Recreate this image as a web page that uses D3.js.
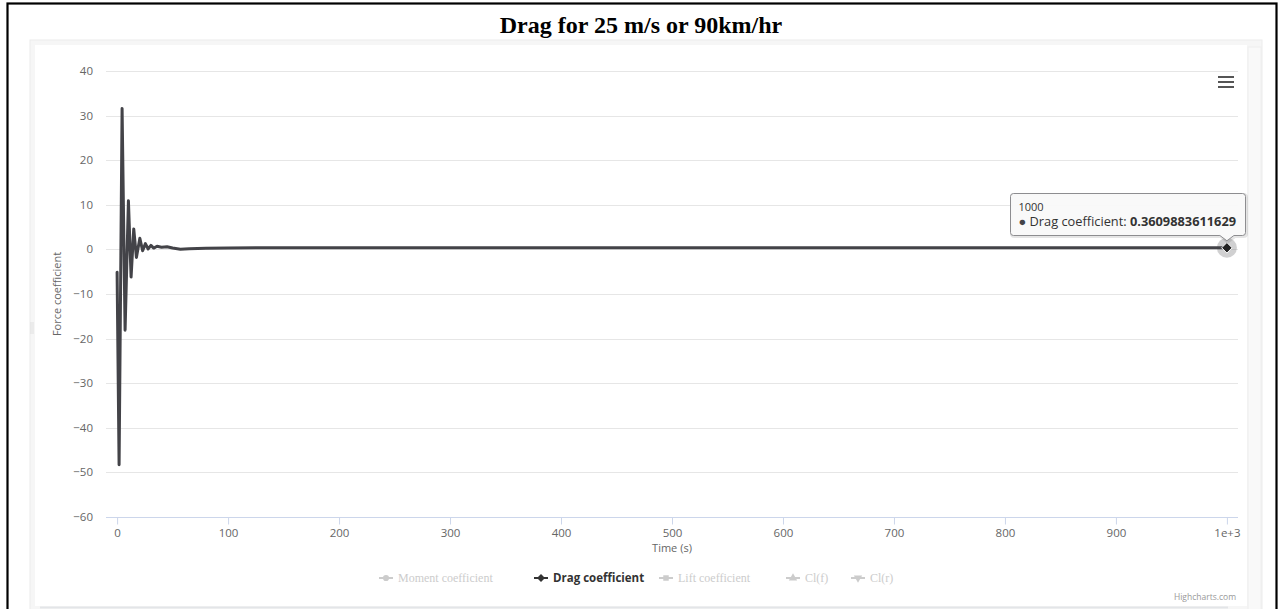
<!DOCTYPE html>
<html>
<head>
<meta charset="utf-8">
<script src="https://cdn.jsdelivr.net/npm/d3@7"></script>
<style>
  html, body { margin: 0; padding: 0; background: #fff; }
  svg { display: block; }
</style>
</head>
<body>
<svg id="chart" width="1283" height="609"></svg>
<script>
// ---- data ----
const chartTitle = "Drag for 25 m/s or 90km/hr";
const timeValues = [0, 1.8, 4.5, 7.2, 10.2, 12.6, 15, 17.4, 20.5, 23, 25.5, 28, 30.5, 33, 36, 40, 45, 50, 57, 65, 80, 100, 150, 200, 300, 400, 500, 600, 700, 800, 900, 1000];
const dragValues = [-5.1, -48.3, 31.6, -18.1, 10.9, -6.2, 4.6, -1.8, 2.5, -0.3, 1.3, 0.1, 0.9, 0.3, 0.7, 0.5, 0.6, 0.3, 0.05, 0.12, 0.25, 0.33, 0.36, 0.36, 0.36, 0.36, 0.36, 0.36, 0.36, 0.36, 0.36, 0.3609883611629];
const xTickValues = [0, 100, 200, 300, 400, 500, 600, 700, 800, 900, 1000];
const xTickLabels = ["0", "100", "200", "300", "400", "500", "600", "700", "800", "900", "1e+3"];
const yTickValues = [40, 30, 20, 10, 0, -10, -20, -30, -40, -50, -60];
const yTickLabels = ["40", "30", "20", "10", "0", "−10", "−20", "−30", "−40", "−50", "−60"];
const legendNames = ["Moment coefficient", "Drag coefficient", "Lift coefficient", "Cl(f)", "Cl(r)"];
const legendSymbols = ["circle", "diamond", "square", "triangle", "triangle-down"];
const legendVisible = [false, true, false, false, false];
const tooltipHeader = "1000";
const tooltipSeries = "Drag coefficient";
const tooltipValue = "0.3609883611629";

// ---- layout ----
const svg = d3.select("#chart");
const plot = { left: 106, right: 1238, top: 71, bottom: 517 };
const lineColor = "#434348";
const sans = "'Open Sans', 'Lucida Grande', Verdana, Arial, sans-serif";

// outer black frame
svg.append("rect").attr("x", 7.5).attr("y", 3.5).attr("width", 1269).attr("height", 620)
  .attr("fill", "none").attr("stroke", "#000").attr("stroke-width", 2.2);

// title
svg.append("text").attr("x", 641).attr("y", 33).attr("text-anchor", "middle")
  .attr("font-family", "'Liberation Serif', 'Times New Roman', serif").attr("font-weight", "bold")
  .attr("font-size", 24).attr("fill", "#000").text(chartTitle);

// container panel
svg.append("rect").attr("x", 30).attr("y", 40).attr("width", 1232).attr("height", 580)
  .attr("fill", "#f6f6f6").attr("stroke", "#ececec");
svg.append("rect").attr("x", 35).attr("y", 45).attr("width", 1212).attr("height", 561)
  .attr("fill", "#fff");
svg.append("rect").attr("x", 1248).attr("y", 47).attr("width", 13).attr("height", 570)
  .attr("fill", "#f9f9f9").attr("stroke", "#eeeeee");
svg.append("line").attr("x1", 40).attr("x2", 1228).attr("y1", 607.5).attr("y2", 607.5)
  .attr("stroke", "#e3e5e8").attr("stroke-width", 2);
// little drag handle on the left edge
[31, 33].forEach(xx => svg.append("line").attr("x1", xx).attr("x2", xx).attr("y1", 322).attr("y2", 334)
  .attr("stroke", "#dcdcdc").attr("stroke-width", 0.8));

// scales
const x = d3.scaleLinear().domain([-10, 1010]).range([plot.left, plot.right]);
const y = d3.scaleLinear().domain([-60, 40]).range([plot.bottom, plot.top]);

// grid lines
svg.append("g").selectAll("line").data(yTickValues.slice(0, -1)).join("line")
  .attr("x1", plot.left).attr("x2", plot.right)
  .attr("y1", d => Math.round(y(d)) + 0.5).attr("y2", d => Math.round(y(d)) + 0.5)
  .attr("stroke", "#e6e6e6").attr("stroke-width", 1);

// y labels
svg.append("g").selectAll("text").data(yTickValues).join("text")
  .attr("x", 93).attr("y", d => y(d) + 4).attr("text-anchor", "end")
  .attr("font-family", sans).attr("font-size", 11.5).attr("fill", "#666")
  .text((d, i) => yTickLabels[i]);

// y title
svg.append("text").attr("transform", "translate(61,294) rotate(-90)").attr("text-anchor", "middle")
  .attr("font-family", sans).attr("font-size", 11).attr("fill", "#666").text("Force coefficient");

// x axis
const xAxis = d3.axisBottom(x).tickValues(xTickValues).tickSize(7).tickPadding(4)
  .tickFormat((d, i) => xTickLabels[i]);
const gx = svg.append("g").attr("transform", `translate(0,${Math.round(plot.bottom) + 0.5})`).call(xAxis);
gx.select(".domain").attr("d", `M${plot.left},0H${plot.right}`).attr("stroke", "#ccd6eb");
gx.selectAll(".tick line").attr("stroke", "#ccd6eb");
gx.selectAll(".tick text").attr("font-family", sans).attr("font-size", 11.5).attr("fill", "#666");
svg.append("text").attr("x", 672).attr("y", 552).attr("text-anchor", "middle")
  .attr("font-family", sans).attr("font-size", 11).attr("fill", "#666").text("Time (s)");

// series line
const pts = timeValues.map((t, i) => [t, dragValues[i]]);
svg.append("path").datum(pts)
  .attr("d", d3.line().x(d => x(d[0])).y(d => y(d[1])))
  .attr("fill", "none").attr("stroke", lineColor).attr("stroke-width", 3)
  .attr("stroke-linejoin", "round").attr("stroke-linecap", "round");

// hovered point: halo + diamond
const last = pts[pts.length - 1];
const hx = x(last[0]), hy = y(last[1]);
svg.append("circle").attr("cx", hx).attr("cy", hy).attr("r", 10).attr("fill", lineColor).attr("opacity", 0.25);
svg.append("path").attr("d", d3.symbol(d3.symbolDiamond2, 70)()).attr("transform", `translate(${hx},${hy})`)
  .attr("fill", "#222").attr("stroke", "#fff").attr("stroke-width", 1);

// tooltip
const tb = { x: 1010.5, y: 193.5, w: 235, h: 42, r: 3 };
const tipX = hx, tipY = hy - 7;
const tp = `M${tb.x + tb.r},${tb.y} H${tb.x + tb.w - tb.r} Q${tb.x + tb.w},${tb.y} ${tb.x + tb.w},${tb.y + tb.r}
  V${tb.y + tb.h - tb.r} Q${tb.x + tb.w},${tb.y + tb.h} ${tb.x + tb.w - tb.r},${tb.y + tb.h}
  H${tipX + 7} L${tipX},${tipY} L${tipX - 7},${tb.y + tb.h}
  H${tb.x + tb.r} Q${tb.x},${tb.y + tb.h} ${tb.x},${tb.y + tb.h - tb.r}
  V${tb.y + tb.r} Q${tb.x},${tb.y} ${tb.x + tb.r},${tb.y} Z`;
svg.append("path").attr("d", tp).attr("transform", "translate(1,1)").attr("fill", "none")
  .attr("stroke", "#000").attr("stroke-opacity", 0.1).attr("stroke-width", 3);
svg.append("path").attr("d", tp).attr("fill", "rgba(249,249,249,0.95)").attr("stroke", "#8d8d90").attr("stroke-width", 1);
svg.append("text").attr("x", tb.x + 8).attr("y", tb.y + 17).attr("font-family", sans).attr("font-size", 11)
  .attr("fill", "#333").text(tooltipHeader);
const tt = svg.append("text").attr("x", tb.x + 8).attr("y", tb.y + 32).attr("font-family", sans)
  .attr("font-size", 12.8).attr("fill", "#333");
tt.append("tspan").attr("fill", lineColor).text("● ");
tt.append("tspan").text(tooltipSeries + ": ");
tt.append("tspan").attr("font-weight", "bold").text(tooltipValue);

// menu icon
[77, 82, 87].forEach(yy => svg.append("line").attr("x1", 1218).attr("x2", 1234).attr("y1", yy).attr("y2", yy)
  .attr("stroke", "#555").attr("stroke-width", 2));

// legend
const legendX = [379, 534, 659, 786, 851];
const symMap = { circle: d3.symbolCircle, diamond: d3.symbolDiamond2, square: d3.symbolSquare,
  triangle: d3.symbolTriangle, "triangle-down": d3.symbolTriangle };
const lg = svg.append("g");
legendNames.forEach((name, i) => {
  const col = legendVisible[i] ? "#333" : "#cccccc";
  const g = lg.append("g").attr("transform", `translate(${legendX[i]},578)`);
  g.append("line").attr("x1", 0).attr("x2", 14).attr("y1", 0).attr("y2", 0).attr("stroke", col).attr("stroke-width", 2);
  g.append("path").attr("d", d3.symbol(symMap[legendSymbols[i]], legendSymbols[i] === "diamond" ? 40 : 30)())
    .attr("transform", `translate(7,0)${legendSymbols[i] === "triangle-down" ? " rotate(180)" : ""}`)
    .attr("fill", col);
  g.append("text").attr("x", 19).attr("y", 4)
    .attr("font-family", legendVisible[i] ? sans : "'Liberation Serif', serif")
    .attr("font-size", legendVisible[i] ? 11.5 : 12)
    .attr("font-weight", legendVisible[i] ? "bold" : "normal").attr("fill", col).text(name);
});

// credits
svg.append("text").attr("x", 1236).attr("y", 600).attr("text-anchor", "end")
  .attr("font-family", sans).attr("font-size", 8.5).attr("fill", "#999").text("Highcharts.com");
</script>
</body>
</html>
